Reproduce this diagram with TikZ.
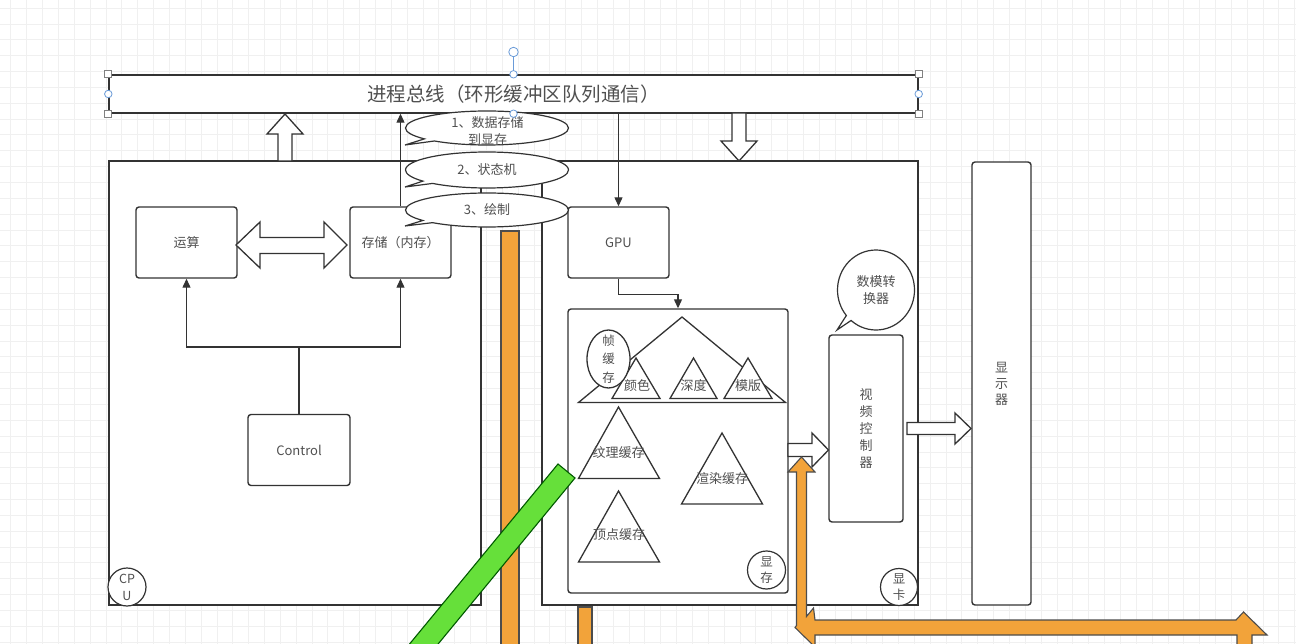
\documentclass[tikz,border=0pt]{standalone}
\usepackage{fontspec}
\setmainfont{Noto Sans CJK SC}
\usetikzlibrary{shapes.geometric, shapes.callouts, arrows.meta, calc, positioning}
\definecolor{lineg}{HTML}{333333}
\definecolor{textg}{HTML}{505050}
\definecolor{barorange}{HTML}{F2A33A}
\definecolor{bargreen}{HTML}{66E03A}
\definecolor{handleblue}{HTML}{6A9BD8}
\definecolor{gridc}{HTML}{F0F0F0}
\tikzset{
  % griglia di sfondo
  gridline/.style={draw=gridc, line width=0.6pt},
  % scatola arrotondata
  box/.style={draw=lineg, line width=1.4pt, rounded corners=3pt, fill=white,
    align=center, inner sep=0pt, text=textg, font=\fontsize{13}{17}\selectfont},
  % cornice grande (CPU, scheda video)
  frame/.style={draw=lineg, line width=1.4pt, fill=white, inner sep=0pt},
  % barra del bus
  bus/.style={frame, text=textg, font=\fontsize{19.5}{22}\selectfont},
  % fumetto ellittico
  bubble/.style={ellipse callout, draw=lineg, line width=1.2pt, fill=white,
    inner sep=0pt, callout pointer arc=10},
  % etichetta tonda
  tag/.style={circle, draw=lineg, line width=1.2pt, fill=white, inner sep=0pt},
  % testo
  lbl/.style={align=center, inner sep=0pt, text=textg, font=\fontsize{13}{16.7}\selectfont},
  % triangolo
  tri/.style={draw=lineg, line width=1.3pt, fill=white, line join=miter},
  % collegamenti
  conn/.style={draw=lineg, line width=1.2pt},
  arr/.style={conn, -{Triangle[length=9pt, width=8pt]}},
  % freccia vuota
  hollow/.style={draw=lineg, line width=1.3pt, fill=white, line join=miter},
  % barre colorate
  orangebar/.style={draw=black!70, line width=1.1pt, fill=barorange, line join=miter},
  greenbar/.style={draw=green!35!black, line width=1.1pt, fill=bargreen},
  % maniglie di selezione
  handlesq/.style={rectangle, draw=gray, fill=white, line width=0.7pt, minimum size=7pt, inner sep=0pt},
  handlecirc/.style={circle, draw=handleblue, fill=white, line width=0.8pt, minimum size=7.5pt, inner sep=0pt},
}

\begin{document}
\begin{tikzpicture}[x=1pt, y=-1pt]
  \useasboundingbox (0,0) rectangle (1296,644);
  \clip (0,0) rectangle (1296,644);
  \fill[white] (0,0) rectangle (1296,644);
  \foreach \i in {0,...,81} \draw[gridline] ({10.75+15.85*\i},0) -- ++(0,644);
  \foreach \j in {0,...,40} \draw[gridline] (0,{8+15.85*\j}) -- ++(1296,0);

  \node[bus, minimum width=809pt, minimum height=38pt] (bus) at (513.5,94) {进程总线（环形缓冲区队列通信）};
  \node[frame, minimum width=372pt, minimum height=444pt] (cpu) at (295,383) {};
  \node[frame, minimum width=376pt, minimum height=444pt] (card) at (730,383) {};
  \node[tag, minimum size=38pt] (cputag) at (127,587) {};
  \node[lbl, font=\fontsize{12.5}{17}\selectfont] (cputagtext) at (cputag) {CP\\U};
  \node[tag, minimum size=37pt] (cardtag) at (899,587) {};
  \node[lbl, font=\fontsize{12.5}{16.7}\selectfont] (cardtagtext) at (cardtag) {显\\卡};

  \draw[hollow] (278,161) -- (278,134) -- (267,134) -- (285,114) -- (303,134) -- (292,134) -- (292,161) -- cycle;
  \draw[hollow] (732,113) -- (732,141) -- (721,141) -- (739,161) -- (757,141) -- (746,141) -- (746,113) -- cycle;

  \node[box, minimum width=101pt, minimum height=71pt] (alu) at (186.5,242.5) {运算};
  \node[box, minimum width=101pt, minimum height=71pt] (mem) at (400.5,242.5) {存储（内存）};
  \node[box, minimum width=102pt, minimum height=71pt] (ctrl) at (299,450) {Control};
  \draw[hollow] (236,245) -- (260,222) -- (260,237.5) -- (324,237.5) -- (324,222) -- (347,245)
    -- (324,268) -- (324,253.5) -- (260,253.5) -- (260,268) -- cycle;
  \coordinate (split) at (299,347);
  \draw[conn] (ctrl.north) -- (split);
  \draw[arr] (split) -| (alu.south);
  \draw[arr] (split) -| (mem.south);
  \draw[arr] (mem.north) -- (mem.north |- bus.south);

  \node[box, minimum width=101pt, minimum height=71pt] (gpu) at (618.5,242.5) {GPU};
  \draw[arr] (bus.south -| gpu.north) -- (gpu.north);
  \node[box, minimum width=220pt, minimum height=284pt] (vram) at (678,451) {};
  \draw[arr] (gpu.south) -- ++(0,16) -| (vram.north);
  \node[tag, minimum size=38pt] (vramtag) at (766.5,570) {};
  \node[lbl, font=\fontsize{12.5}{16.7}\selectfont] (vramtagtext) at (vramtag) {显\\存};

  \draw[tri] (682,317) -- (578.5,402.5) -- (785.5,402.5) -- cycle;
  \draw[tri] (636,358) -- (612,398.5) -- (660,398.5) -- cycle;
  \draw[tri] (693.5,358) -- (670,398.5) -- (717,398.5) -- cycle;
  \draw[tri] (748,358) -- (724,398.5) -- (772,398.5) -- cycle;
  \node[ellipse, draw=lineg, line width=1.3pt, fill=white, inner sep=0pt,
    minimum width=43pt, minimum height=58pt] (fbuf) at (608.5,359) {};
  \node[lbl, font=\fontsize{12.5}{18.5}\selectfont] (fbuftext) at (fbuf) {帧\\缓\\存};
  \node[lbl] (colortext) at (637,386) {颜色};
  \node[lbl] (depthtext) at (693.5,386) {深度};
  \node[lbl] (stenciltext) at (748,386) {模版};

  \draw[tri] (618.5,407) -- (578.5,478.5) -- (659.5,478.5) -- cycle;
  \draw[tri] (722,433) -- (681.5,504) -- (762.5,504) -- cycle;
  \draw[tri] (618.5,491) -- (578.5,562) -- (659.5,562) -- cycle;
  \node[lbl] (texturetext) at (618.5,453) {纹理缓存};
  \node[lbl] (rendertext) at (722,479) {渲染缓存};
  \node[lbl] (vertextext) at (619,535) {顶点缓存};

  \node[box, minimum width=74pt, minimum height=187pt] (vctl) at (866,428.5) {视\\频\\控\\制\\器};
  \node[box, minimum width=59pt, minimum height=443pt, font=\fontsize{13}{16}\selectfont] (disp) at (1001.5,383.5) {显\\示\\器};
  \draw[hollow] (788,443.5) -- (812,443.5) -- (812,433) -- (828.5,450) -- (812,467) -- (812,456.5) -- (788,456.5) -- cycle;
  \draw[hollow] (907,422.5) -- (955,422.5) -- (955,413) -- (971,428.5) -- (955,444) -- (955,434.5) -- (907,434.5) -- cycle;
  \node[bubble, minimum width=77pt, minimum height=80pt, callout absolute pointer={(837,330)}] (dac) at (876,290) {};
  \node[lbl] (dactext) at (dac) {数模转\\换器};

  \node[bubble, minimum width=163pt, minimum height=34pt, callout absolute pointer={(405,145)}] (step1) at (487,128) {};
  \node[lbl] (step1text) at (487.5,131) {1、数据存储\\到显存};
  \node[bubble, minimum width=163pt, minimum height=36pt, callout absolute pointer={(405,187)}] (step2) at (487,170) {};
  \node[lbl] (step2text) at (step2) {2、状态机};
  \node[bubble, minimum width=163pt, minimum height=34pt, callout absolute pointer={(405,226)}] (step3) at (487,210) {};
  \node[lbl] (step3text) at (step3) {3、绘制};

  \draw[orangebar] (501,231) rectangle (519,660);
  \draw[orangebar] (578,607) rectangle (592,660);
  \draw[orangebar] (801.5,457) -- (815,472) -- (806.5,472) -- (806.5,616.5) -- (813.5,608) -- (815,620)
    -- (1236,620) -- (1243.5,612) -- (1267,635) -- (1252,635) -- (1252,660) -- (1237,660) -- (1237,635)
    -- (815,635) -- (815,647) -- (795,627.5) -- (796.5,625.5) -- (796.5,472) -- (788,472) -- cycle;
  \draw[greenbar] (558,464) -- (575,478) -- (384,709.6) -- (367,695.6) -- cycle;

  \draw[handleblue, line width=0.8pt] (bus.north) -- ++(0,-22);
  \node[handlecirc, minimum size=9.5pt] (rot) at (513.5,52) {};
  \foreach \a in {north west, north east, south west, south east}
    \node[handlesq] (h-\a) at (bus.\a) {};
  \foreach \a in {north, south, west, east}
    \node[handlecirc] (h-\a) at (bus.\a) {};
\end{tikzpicture}
\end{document}
